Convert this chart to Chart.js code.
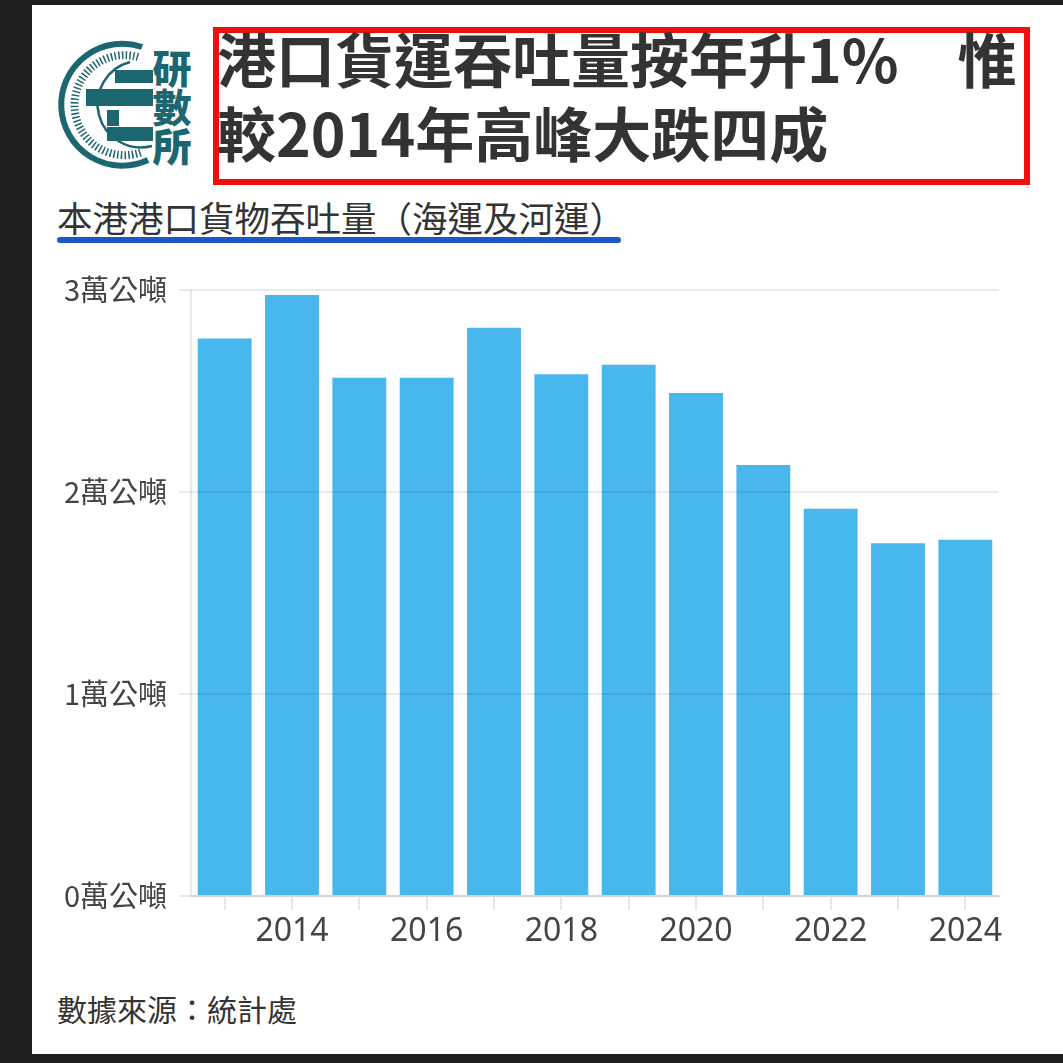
<!DOCTYPE html>
<html>
<head>
<meta charset="utf-8">
<script src="https://cdn.jsdelivr.net/npm/chart.js@4/dist/chart.umd.min.js"></script>
<style>
  html, body { margin: 0; padding: 0; }
  body {
    width: 1063px; height: 1063px; background: #1e1e1e;
    position: relative; overflow: hidden;
    font-family: "Noto Sans CJK TC", "Noto Sans", sans-serif;
  }
  #panel { position: absolute; left: 32px; top: 5px; width: 1031px; height: 1049px; background: #fff; }
  #logo { position: absolute; left: 50px; top: 30px; }
  #titleBox {
    position: absolute; left: 213px; top: 27px; width: 817px; height: 158px;
    border: 6px solid #ee0f0f; box-sizing: border-box;
  }
  #title {
    position: absolute; left: 217px; top: 21px; margin: 0;
    font-size: 59px; line-height: 74px; font-weight: 700; color: #333;
    white-space: nowrap;
  }
  #subtitle {
    position: absolute; left: 57px; top: 195px; margin: 0;
    font-size: 35.5px; line-height: 44px; font-weight: 400; color: #333; white-space: nowrap;
  }
  #underline {
    position: absolute; left: 57px; top: 237px; width: 564px; height: 6px;
    background: #1c58c4; border-radius: 3px;
  }
  #source {
    position: absolute; left: 57px; top: 988px; margin: 0;
    font-size: 30px; line-height: 40px; font-weight: 400; color: #333;
  }
  #chartWrap { position: absolute; left: 40px; top: 260px; width: 1000px; height: 720px; }
</style>
</head>
<body>
<div id="panel"></div>

<!-- logo -->
<svg id="logo" width="150" height="145" viewBox="50 30 150 145">
  <g fill="none" stroke="#1c6670">
    <path d="M 142 47 A 61 61 0 1 0 148 160" stroke-width="6"/>
    <path d="M 138 57 A 50 50 0 1 0 142 152" stroke-width="8" stroke-dasharray="1.5 2.2"/>
    <path d="M 130 62 A 42 42 0 1 0 152 146" stroke-width="2.5"/>
  </g>
  <g fill="#1c6670">
    <rect x="115" y="70" width="38" height="13"/>
    <rect x="86" y="89" width="67" height="17"/>
    <rect x="107" y="110" width="12" height="16"/>
    <rect x="107" y="127" width="46" height="14"/>
    <text x="172" y="83" font-size="39" font-weight="900" text-anchor="middle">研</text>
    <text x="172" y="122" font-size="39" font-weight="900" text-anchor="middle">數</text>
    <text x="172" y="161" font-size="39" font-weight="900" text-anchor="middle">所</text>
  </g>
</svg>

<div id="titleBox"></div>
<p id="title">港口貨運吞吐量按年升1%　惟<br>較2014年高峰大跌四成</p>
<p id="subtitle">本港港口貨物吞吐量（海運及河運）</p>
<div id="underline"></div>
<p id="source">數據來源：統計處</p>

<div id="chartWrap"><canvas id="portChart"></canvas></div>

<script>
// port cargo throughput (unit as labelled: 萬公噸)
const years = ["2013", "2014", "2015", "2016", "2017", "2018", "2019", "2020", "2021", "2022", "2023", "2024"];
const throughput = [2.76, 2.975, 2.565, 2.565, 2.813, 2.583, 2.63, 2.49, 2.134, 1.917, 1.746, 1.764];
const yTickValues = [0, 1, 2, 3];
const yUnit = "萬公噸";

// light vertical rule on the left edge of the plot
const leftRule = {
    id: "leftRule",
    beforeDatasetsDraw(chart) {
        const { ctx, chartArea } = chart;
        ctx.save();
        ctx.strokeStyle = "#e8e8e8";
        ctx.lineWidth = 2;
        ctx.beginPath();
        ctx.moveTo(chartArea.left, chartArea.top);
        ctx.lineTo(chartArea.left, chartArea.bottom);
        ctx.stroke();
        ctx.restore();
    }
};

const ctx = document.getElementById("portChart").getContext("2d");

new Chart(ctx, {
    type: "bar",
    data: {
        labels: years,
        datasets: [{
            label: "本港港口貨物吞吐量",
            data: throughput,
            backgroundColor: "#48b7ee",
            categoryPercentage: 0.8,
            barPercentage: 1.0
        }]
    },
    plugins: [leftRule],
    options: {
        responsive: true,
        maintainAspectRatio: false,
        animation: false,
        layout: { padding: { top: 30, right: 41, bottom: 24, left: 0 } },
        plugins: {
            legend: { display: false },
            tooltip: { enabled: false }
        },
        scales: {
            x: {
                offset: true,
                afterFit: (scale) => { scale.height = 60; },
                grid: {
                    offset: false,
                    drawOnChartArea: false,
                    drawTicks: true,
                    tickLength: 14,
                    color: "#e6e6e6",
                    lineWidth: 2
                },
                border: { display: true, color: "#e6e6e6", width: 2 },
                ticks: {
                    autoSkip: false,
                    maxRotation: 0,
                    padding: 3,
                    color: "#444",
                    font: { family: "'Noto Sans', sans-serif", size: 32 },
                    callback: (val, idx) => (idx % 2 === 1 ? years[idx] : "")
                }
            },
            y: {
                min: yTickValues[0],
                max: yTickValues[yTickValues.length - 1],
                afterFit: (scale) => { scale.width = 151; },
                afterBuildTicks: (scale) => { scale.ticks = yTickValues.map(v => ({ value: v })); },
                grid: {
                    color: "rgba(0,0,0,0.08)",
                    lineWidth: 2,
                    tickLength: 12,
                    z: 1
                },
                border: { display: false },
                ticks: {
                    padding: 12,
                    color: "#444",
                    font: { family: "'Noto Sans CJK TC', sans-serif", size: 29 },
                    callback: (v) => v + yUnit
                }
            }
        }
    }
});
</script>
</body>
</html>
